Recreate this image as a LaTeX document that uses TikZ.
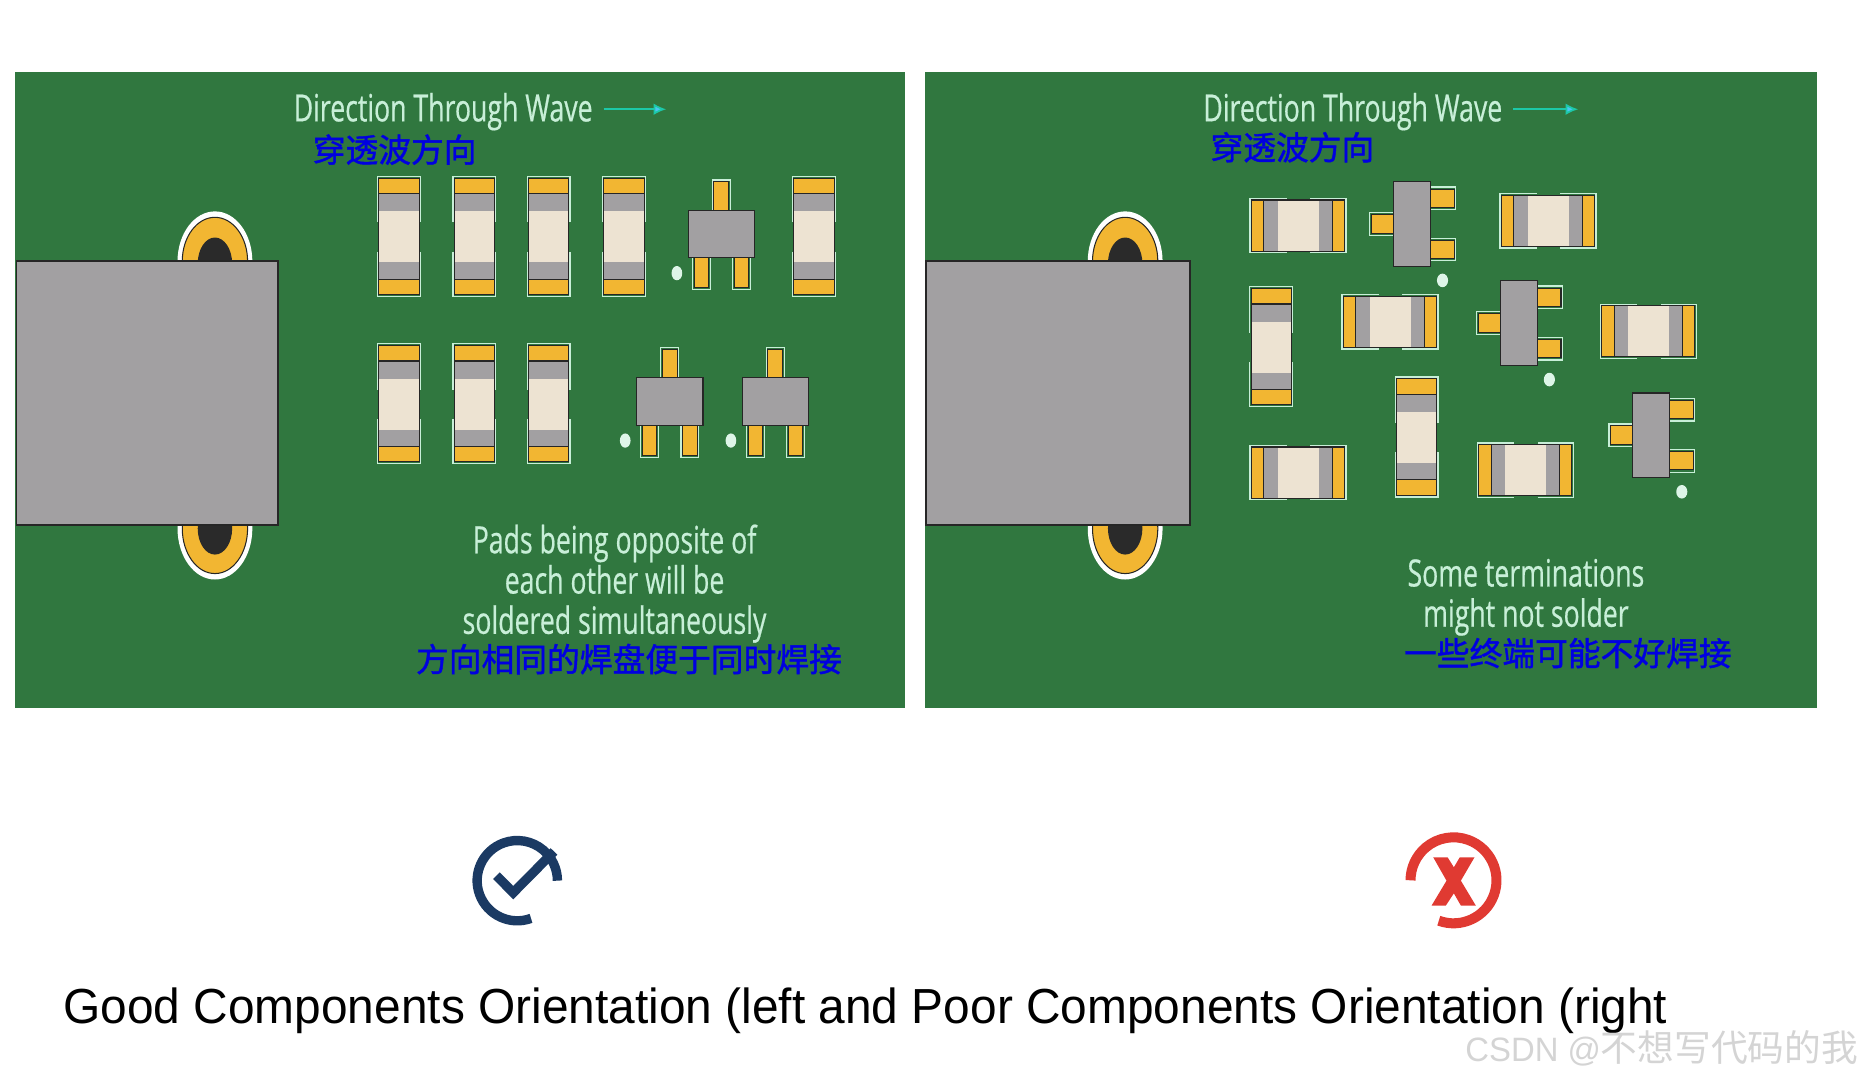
\documentclass[tikz,border=0pt]{standalone}
\usepackage{fontspec}
\setmainfont[FakeStretch=0.972]{Liberation Sans}
\newfontfamily\boardfont[FakeStretch=0.71, FakeBold=0.5]{Open Sans}
\newfontfamily\cjkfont[FakeBold=1.3]{Noto Sans CJK SC}
\newfontfamily\stampcjk{Noto Sans CJK SC}
\usepackage{xcolor}
\definecolor{board}{HTML}{30773F}
\definecolor{pale}{HTML}{C8EFD8}
\definecolor{padyellow}{HTML}{F2B632}
\definecolor{cream}{HTML}{EDE3D2}
\definecolor{chipgray}{HTML}{A2A0A2}
\definecolor{holedark}{HTML}{2A2A2A}
\definecolor{navy}{HTML}{1B3A63}
\definecolor{redmark}{HTML}{E03A32}
\definecolor{cnblue}{HTML}{0000E0}
\definecolor{wavecyan}{HTML}{1CC8A8}
\usepackage{tikz}
\usetikzlibrary{
  arrows.meta,
  positioning
}

\begin{document}
\begin{tikzpicture}[
  x=0.02cm, y=-0.02cm,
  boardtxt/.style={text=pale, font=\boardfont\fontsize{18}{19.3}\selectfont, align=center, inner sep=0pt},
  cnlabel/.style={text=cnblue, font=\cjkfont\fontsize{15.7}{18}\selectfont, inner sep=0pt},
  captiontxt/.style={text=black, font=\fontsize{23.6}{28}\selectfont, inner sep=0pt},
  stampgray/.style={text=black!17, font=\fontsize{16.2}{22}\selectfont, inner sep=0pt},
  paleline/.style={draw=pale, line width=0.6pt},
  darkline/.style={draw=black!85, line width=0.5pt},
  wavearr/.style={-{Latex[length=6pt,width=5.5pt,fill=cyan!70!white]}, wavecyan, line width=0.8pt},
  chip/.pic={
    \fill[cream] (-17,-21) rectangle (17,22);
    \fill[chipgray] (-17,-36) rectangle (17,-21);
    \fill[chipgray] (-17,22) rectangle (17,36);
    \draw[darkline] (-17,-36) -- (-17,36);
    \draw[darkline] (17,-36) -- (17,36);
    \draw[paleline] (-18,-12) -- (-18,-50.5) -- (18,-50.5) -- (18,-12);
    \draw[paleline] (-18,13) -- (-18,50.5) -- (18,50.5) -- (18,13);
    \filldraw[fill=padyellow, darkline] (-17,-49) rectangle (17,-36);
    \filldraw[fill=padyellow, darkline] (-17,36) rectangle (17,49);
  },
  sot/.pic={
    % pins
    \draw[paleline] (-7.5,-20) -- (-7.5,-45.5) -- (7.5,-45.5) -- (7.5,-20);
    \draw[paleline] (-24.5,20) -- (-24.5,47) -- (-9.5,47) -- (-9.5,20);
    \draw[paleline] (9.5,20) -- (9.5,47) -- (24.5,47) -- (24.5,20);
    \filldraw[fill=padyellow, darkline] (-6.3,-44) rectangle (6.3,-20);
    \filldraw[fill=padyellow, darkline] (-23,20) rectangle (-11,45.5);
    \filldraw[fill=padyellow, darkline] (11,20) rectangle (23,45.5);
    % body
    \filldraw[fill=chipgray, darkline] (-28,-20) rectangle (28,20);
    \fill[pale!60!white] (-37.5,33) ellipse [x radius=4.5, y radius=6];
  },
]
\useasboundingbox (0,0) rectangle (1568,910.3);

% Boards
\fill[board] (13,61) rectangle (762,596);
\fill[board] (779,61) rectangle (1530,596);

% Mounting holes
\fill[white] (181,220) ellipse [x radius=31.5, y radius=42];
\filldraw[fill=padyellow, darkline] (181,220) ellipse [x radius=27.5, y radius=37];
\fill[holedark] (181,222) ellipse [x radius=14.5, y radius=22];
\fill[white] (181,445) ellipse [x radius=31.5, y radius=43];
\filldraw[fill=padyellow, darkline] (181,445) ellipse [x radius=27.5, y radius=38];
\fill[holedark] (181,445) ellipse [x radius=14.5, y radius=22];
\fill[white] (947.5,220) ellipse [x radius=31.5, y radius=42];
\filldraw[fill=padyellow, darkline] (947.5,220) ellipse [x radius=27.5, y radius=37];
\fill[holedark] (947.5,222) ellipse [x radius=14.5, y radius=22];
\fill[white] (947.5,445) ellipse [x radius=31.5, y radius=43];
\filldraw[fill=padyellow, darkline] (947.5,445) ellipse [x radius=27.5, y radius=38];
\fill[holedark] (947.5,445) ellipse [x radius=14.5, y radius=22];

% Large parts
\filldraw[fill=chipgray, darkline, line width=0.8pt] (14,220) rectangle (234,442);
\filldraw[fill=chipgray, darkline, line width=0.8pt] (780,220) rectangle (1002,442);

% Left board parts
\pic at (336,199) {chip};
\pic at (399.5,199) {chip};
\pic at (462,199) {chip};
\pic at (525.5,199) {chip};
\pic at (685.5,199) {chip};
\pic at (336,340) {chip};
\pic at (399.5,340) {chip};
\pic at (462,340) {chip};
\pic at (607.5,197) {sot};
\pic at (564,338) {sot};
\pic at (653,338) {sot};

% Right board parts
\pic[rotate=90, xscale=1.27, yscale=0.8] at (1093,190) {chip};
\pic[rotate=90, xscale=1.27, yscale=0.8] at (1303.5,186) {chip};
\pic[rotate=90, xscale=1.27, yscale=0.8] at (1170.5,271) {chip};
\pic[rotate=90, xscale=1.27, yscale=0.8] at (1388,279) {chip};
\pic[rotate=90, xscale=1.27, yscale=0.8] at (1093,398) {chip};
\pic[rotate=90, xscale=1.27, yscale=0.8] at (1284.5,396) {chip};
\pic at (1070.5,292) {chip};
\pic at (1193,368) {chip};
\pic[rotate=90, xscale=1.27, yscale=0.78] at (1189,188.5) {sot};
\pic[rotate=90, xscale=1.27, yscale=0.78] at (1279,272) {sot};
\pic[rotate=90, xscale=1.27, yscale=0.78] at (1390.5,366.5) {sot};

% Board texts
\node[boardtxt, anchor=west] (dirl) at (247,94) {Direction Through Wave};
\node[boardtxt, anchor=west] (dirr) at (1013,94) {Direction Through Wave};
\coordinate (tipl) at (561,92);
\coordinate (tipr) at (1329,92);
\draw[wavearr] (dirl.east |- tipl) ++(9,0) -- (tipl);
\draw[wavearr] (dirr.east |- tipr) ++(9,0) -- (tipr);
\node[cnlabel, anchor=west] (cndirl) at (263,126) {穿透波方向};
\node[cnlabel, anchor=west] (cndirr) at (1019,124) {穿透波方向};
\node[boardtxt] (padsnote) at (517.5,491.5) {Pads being opposite of\\each other will be\\soldered simultaneously};
\node[boardtxt] (termnote) at (1285,503) {Some terminations\\might not solder};
\node[cnlabel, anchor=west] (cnpads) at (350,555) {方向相同的焊盘便于同时焊接};
\node[cnlabel, anchor=west] (cnterm) at (1182,550) {一些终端可能不好焊接};

% Marks
\draw[navy, line width=4.5pt] (435.6,741.6) ++(70:33.8) arc[start angle=70, end angle=360, radius=33.8];
\draw[navy, line width=4.5pt, miter limit=10] (418,737.4) -- (432.2,751.7) -- (466.5,717);
\draw[redmark, line width=4.8pt] (1224,741.3) ++(110:36.2) arc[start angle=110, end angle=-180, radius=36.2];
\fill[redmark, shift={(1224,741.3)}] (-17.1,-19.4) -- (-5,-19.4) -- (0.3,-11) -- (5.3,-19.4) -- (17.7,-19.4) -- (6.2,0.3) -- (18.8,21.3) -- (6.2,21.3) -- (0.3,11) -- (-6.5,21.3) -- (-18.5,21.3) -- (-5.9,0.3) -- cycle;

% Caption
\node[captiontxt, anchor=base west] (caption) at (53,862) {Good Components Orientation (left and Poor Components Orientation (right};
\node[stampgray, anchor=base east] (stamp) at (1565,894) {CSDN @{\stampcjk\fontsize{17.6}{22}\selectfont 不想写代码的我}};

\end{tikzpicture}
\end{document}
